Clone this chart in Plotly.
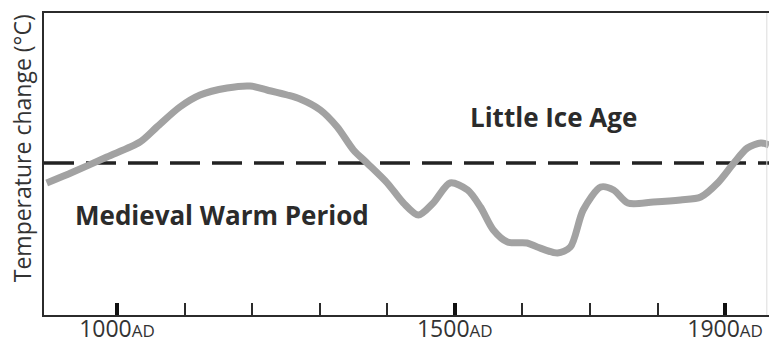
import plotly.graph_objects as go

# Reconstructed temperature anomaly curve (relative units, 0 = reference level)
years = [896, 935, 985, 1034, 1059, 1093, 1123, 1163, 1197, 1222, 1252, 1271,
         1301, 1326, 1350, 1370, 1400, 1424, 1446, 1468, 1493, 1519, 1538,
         1557, 1578, 1607, 1622, 1652, 1671, 1690, 1716, 1735, 1756, 1794,
         1834, 1864, 1889, 1913, 1933, 1953, 1965]
temps = [-0.20, -0.09, 0.06, 0.21, 0.36, 0.56, 0.68, 0.75, 0.77, 0.73, 0.68, 0.64,
         0.53, 0.36, 0.13, 0.00, -0.20, -0.40, -0.52, -0.40, -0.20, -0.27, -0.44,
         -0.67, -0.79, -0.80, -0.84, -0.90, -0.84, -0.47, -0.24, -0.27, -0.40, -0.39,
         -0.37, -0.34, -0.20, 0.00, 0.15, 0.20, 0.18]

baseline_years = [892, 1965]
baseline_temps = [0, 0]

major_ticks = [1000, 1500, 1900]
major_labels = [f"{y}<span style='font-size:17px'>AD</span>" for y in major_ticks]
minor_ticks = [1100, 1200, 1300, 1400, 1600, 1700, 1800]

x_range = [892, 1965]
y_range = [-1.52, 1.50]

ink = "#2b2b2b"
font = "Open Sans"

fig = go.Figure()

# reference level (dashed)
fig.add_trace(go.Scatter(
    x=baseline_years, y=baseline_temps, mode="lines",
    line=dict(color="#222222", width=3.5, dash="30px,12px"),
    hoverinfo="skip", showlegend=False,
))

# temperature curve
fig.add_trace(go.Scatter(
    x=years, y=temps, mode="lines",
    line=dict(color="#a2a2a2", width=7, shape="spline", smoothing=0.8),
    showlegend=False,
))

fig.add_annotation(x=1646, y=0.46, text="<b>Little Ice Age</b>", showarrow=False,
                   font=dict(family=font, size=26, color=ink))
fig.add_annotation(x=1155, y=-0.52, text="<b>Medieval Warm Period</b>", showarrow=False,
                   font=dict(family=font, size=26, color=ink))
fig.add_annotation(xref="paper", yref="paper", x=-0.03, y=0.553,
                   text="Temperature change (°C)", textangle=-90, showarrow=False,
                   xanchor="center", yanchor="middle",
                   font=dict(family=font, size=23, color="#333333"))

# faint right frame edge
fig.add_shape(type="line", xref="paper", yref="paper", x0=0.997, x1=0.997, y0=0, y1=1,
              line=dict(color="#dddddd", width=1))

fig.update_xaxes(
    range=x_range, showgrid=False, zeroline=False, automargin=False,
    showline=True, linecolor=ink, linewidth=2, mirror=True,
    tickmode="array", tickvals=major_ticks, ticktext=major_labels,
    ticks="inside", ticklen=12, tickwidth=4, tickcolor="#111111",
    ticklabelstandoff=-8,
    tickfont=dict(family=font, size=23, color="#333333"),
    minor=dict(tickmode="array", tickvals=minor_ticks, ticks="inside",
               ticklen=12, tickwidth=1.5, tickcolor=ink),
)
fig.update_yaxes(
    range=y_range, showgrid=False, zeroline=False, showticklabels=False,
    automargin=False,
    showline=True, linecolor=ink, linewidth=2, ticks="",
)

fig.update_layout(
    width=769, height=343,
    margin=dict(l=44, r=0, t=13, b=28),
    paper_bgcolor="white", plot_bgcolor="white",
)

fig.write_html("out.html")
